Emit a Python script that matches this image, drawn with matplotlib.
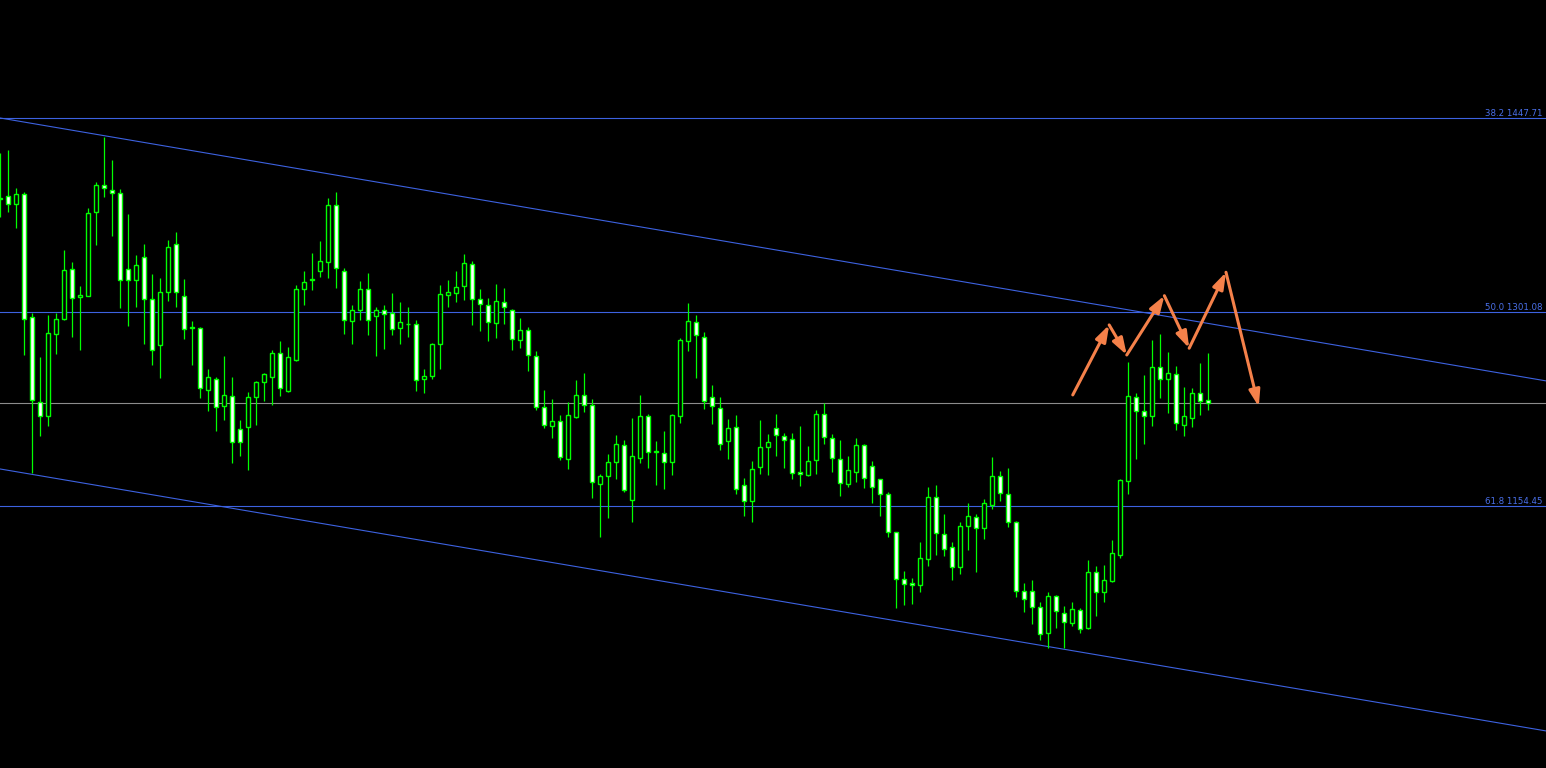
import numpy as np
import matplotlib.pyplot as plt

# OHLC values (one candle per bar)
opens = [1386.9, 1388.5, 1382.5, 1390.1, 1297.1, 1232.8, 1222.3, 1284.7, 1296.0, 1333.4,
         1312.2, 1313.4, 1376.4, 1396.9, 1393.1, 1390.8, 1333.4, 1325.5, 1342.4, 1310.7,
         1275.9, 1316.0, 1352.3, 1313.0, 1289.4, 1288.8, 1241.9, 1250.2, 1229.8, 1237.4,
         1212.4, 1214.0, 1237.1, 1248.4, 1252.2, 1269.9, 1241.6, 1264.8, 1318.2, 1325.3,
         1331.8, 1338.7, 1381.7, 1331.8, 1294.1, 1302.8, 1318.2, 1297.8, 1302.4, 1300.1,
         1288.8, 1292.2, 1291.8, 1250.2, 1252.5, 1276.7, 1313.7, 1315.2, 1320.5, 1337.1,
         1310.7, 1306.6, 1293.0, 1308.4, 1302.8, 1280.2, 1287.3, 1267.6, 1229.1, 1214.7,
         1218.5, 1190.2, 1222.0, 1238.6, 1230.6, 1170.9, 1177.4, 1188.0, 1200.3, 1159.2,
         1190.5, 1222.3, 1196.0, 1194.8, 1188.0, 1222.7, 1279.4, 1293.3, 1282.0, 1236.6,
         1228.3, 1203.4, 1214.0, 1170.1, 1158.5, 1183.7, 1198.8, 1213.2, 1207.1, 1204.9,
         1179.9, 1177.7, 1189.5, 1223.8, 1205.6, 1189.8, 1170.7, 1180.4, 1200.3, 1184.5,
         1174.6, 1163.3, 1134.6, 1099.1, 1096.0, 1094.5, 1114.2, 1161.0, 1133.1, 1123.3,
         1108.1, 1139.1, 1145.9, 1137.6, 1155.0, 1176.9, 1163.3, 1142.1, 1090.0, 1090.0,
         1077.9, 1058.3, 1086.2, 1073.4, 1065.8, 1075.6, 1062.5, 1104.4, 1089.2, 1097.6,
         1117.7, 1173.1, 1236.6, 1226.0, 1222.3, 1259.3, 1250.2, 1254.0, 1215.5, 1220.8,
         1239.6, 1234.4]
highs = [1421.3, 1423.5, 1394.6, 1391.8, 1300.6, 1266.9, 1298.6, 1300.6, 1348.0, 1338.9,
         1320.7, 1379.5, 1399.3, 1433.6, 1416.0, 1393.8, 1375.2, 1344.2, 1352.5, 1329.8,
         1326.8, 1355.5, 1361.6, 1326.0, 1294.3, 1290.0, 1258.0, 1252.0, 1267.8, 1252.0,
         1219.5, 1240.6, 1248.9, 1255.2, 1272.4, 1279.0, 1274.6, 1321.3, 1331.8, 1345.5,
         1354.8, 1387.0, 1391.6, 1334.1, 1306.4, 1324.3, 1330.3, 1305.1, 1306.4, 1315.2,
         1308.6, 1304.9, 1294.8, 1258.0, 1277.9, 1321.3, 1325.3, 1332.1, 1344.9, 1339.6,
         1318.5, 1311.7, 1322.3, 1319.2, 1303.0, 1296.6, 1289.5, 1271.4, 1242.1, 1235.3,
         1223.0, 1233.1, 1249.7, 1255.0, 1235.1, 1178.4, 1193.8, 1208.1, 1204.4, 1221.0,
         1238.1, 1224.0, 1203.6, 1211.2, 1223.8, 1281.2, 1307.9, 1298.8, 1286.0, 1245.9,
         1236.8, 1220.0, 1223.0, 1175.6, 1188.3, 1219.5, 1208.9, 1224.0, 1209.4, 1209.4,
         1214.9, 1199.6, 1226.8, 1232.1, 1208.7, 1204.2, 1192.3, 1205.9, 1201.5, 1188.5,
         1174.8, 1165.0, 1134.8, 1105.3, 1099.8, 1127.3, 1168.8, 1170.3, 1148.4, 1127.3,
         1142.1, 1156.7, 1148.4, 1159.8, 1191.5, 1180.9, 1183.0, 1142.9, 1096.3, 1098.3,
         1081.9, 1089.2, 1087.0, 1078.7, 1081.9, 1077.2, 1113.4, 1108.9, 1109.6, 1128.5,
         1174.9, 1263.3, 1239.6, 1253.5, 1279.9, 1284.5, 1270.9, 1260.3, 1244.4, 1243.7,
         1262.5, 1270.1]
lows = [1373.1, 1376.9, 1364.8, 1268.6, 1179.4, 1207.6, 1215.2, 1269.6, 1295.0, 1282.4,
        1272.4, 1313.0, 1351.7, 1388.2, 1358.5, 1304.3, 1290.5, 1305.1, 1277.1, 1261.3,
        1251.4, 1309.6, 1305.1, 1280.9, 1261.3, 1236.3, 1226.5, 1211.4, 1219.7, 1187.2,
        1192.5, 1181.7, 1215.7, 1233.8, 1230.8, 1237.6, 1240.6, 1264.1, 1306.4, 1317.7,
        1327.5, 1327.0, 1319.5, 1284.7, 1277.1, 1295.3, 1283.9, 1268.1, 1273.4, 1283.9,
        1277.1, 1282.4, 1241.6, 1240.1, 1250.2, 1258.2, 1305.1, 1308.9, 1310.4, 1291.5,
        1287.0, 1279.4, 1281.7, 1292.3, 1272.6, 1274.1, 1256.7, 1227.3, 1213.6, 1206.1,
        1189.5, 1182.7, 1221.2, 1225.7, 1160.7, 1131.3, 1145.6, 1175.1, 1165.3, 1142.6,
        1187.2, 1183.4, 1170.6, 1167.5, 1178.1, 1217.4, 1271.8, 1251.4, 1228.0, 1216.7,
        1197.0, 1190.2, 1163.8, 1147.1, 1142.6, 1178.9, 1178.1, 1192.5, 1183.4, 1175.1,
        1169.8, 1177.3, 1178.9, 1201.5, 1180.4, 1162.3, 1169.1, 1172.8, 1168.3, 1157.0,
        1147.1, 1131.3, 1077.6, 1079.9, 1080.6, 1089.7, 1109.3, 1117.7, 1116.9, 1098.8,
        1102.8, 1121.4, 1104.8, 1129.8, 1152.0, 1158.5, 1138.8, 1085.5, 1074.1, 1065.1,
        1053.0, 1046.9, 1062.5, 1046.9, 1064.0, 1058.3, 1061.7, 1071.6, 1082.1, 1097.3,
        1115.4, 1163.8, 1190.0, 1201.5, 1215.2, 1236.3, 1225.0, 1212.1, 1207.6, 1214.4,
        1223.5, 1227.3]
closes = [1386.5, 1382.5, 1390.1, 1295.6, 1234.6, 1222.3, 1285.0, 1295.6, 1332.6, 1311.4,
          1313.7, 1375.7, 1396.9, 1394.6, 1390.8, 1325.1, 1325.1, 1336.4, 1310.7, 1272.1,
          1316.0, 1350.0, 1316.0, 1288.0, 1289.0, 1243.4, 1251.7, 1229.1, 1238.1, 1202.6,
          1202.6, 1236.6, 1248.0, 1254.0, 1269.9, 1243.4, 1266.9, 1318.2, 1323.5, 1325.6,
          1339.4, 1381.7, 1334.1, 1294.8, 1302.8, 1318.2, 1294.8, 1302.4, 1299.4, 1288.0,
          1293.3, 1291.9, 1249.5, 1252.5, 1276.7, 1314.5, 1316.0, 1319.8, 1337.9, 1310.7,
          1306.9, 1293.3, 1309.2, 1304.6, 1280.5, 1287.3, 1268.4, 1229.1, 1215.5, 1218.5,
          1191.3, 1223.0, 1238.1, 1230.6, 1172.4, 1177.4, 1188.0, 1201.1, 1166.8, 1192.0,
          1222.3, 1195.5, 1195.6, 1188.0, 1223.0, 1279.7, 1294.1, 1283.5, 1233.6, 1229.8,
          1201.5, 1213.2, 1167.1, 1158.0, 1182.2, 1198.8, 1202.6, 1207.9, 1204.1, 1179.2,
          1178.4, 1188.3, 1223.8, 1206.4, 1190.4, 1171.6, 1181.4, 1200.3, 1175.4, 1168.6,
          1163.3, 1134.6, 1099.1, 1095.3, 1094.5, 1114.9, 1161.0, 1133.8, 1121.7, 1108.1,
          1139.1, 1146.7, 1137.8, 1156.5, 1176.9, 1164.1, 1142.1, 1090.0, 1084.0, 1077.9,
          1057.5, 1086.2, 1074.9, 1066.6, 1076.4, 1061.3, 1104.4, 1089.2, 1098.2, 1118.6,
          1173.9, 1237.4, 1226.0, 1222.3, 1259.3, 1250.2, 1254.8, 1217.0, 1222.3, 1239.6,
          1233.6, 1232.1]

# Fibonacci levels (percent, price)
fib_pct = ["38.2", "50.0", "61.8"]
fib_price = [1447.71, 1301.08, 1154.45]

# channel lines: two anchor points each (bar index, price)
upper_channel = [(0, 1447.7), (190, 1252.3)]
lower_channel = [(0, 1182.4), (190, 987.7)]

# hand-drawn projection path (bar index, price)
path_x = [134.05, 138.6, 140.8, 145.5, 148.6, 153.2, 157.3]
path_y = [1238.4, 1291.3, 1268.6, 1313.4, 1273.7, 1331.1, 1229.5]

BLUE = '#3d62e0'
LIME = '#00ff00'
ORANGE = '#f5814a'

o = np.array(opens)
h = np.array(highs)
l = np.array(lows)
c = np.array(closes)
x = np.arange(len(o))

fig = plt.figure(figsize=(15.46, 7.68), dpi=100, facecolor='black')
ax = fig.add_axes([0, 0, 1, 1])
ax.set_facecolor('black')
ax.set_xlim(-0.0375, 193.2)
ax.set_ylim(956.4, 1536.9)
ax.axis('off')

# horizontal levels
for pct, p in zip(fib_pct, fib_price):
    ax.axhline(p, color=BLUE, lw=0.8, zorder=1)
    ax.annotate(f"{pct} {p:.2f}", xy=(0.998, p), xycoords=('axes fraction', 'data'),
                xytext=(0, 0), textcoords='offset points', ha='right', va='bottom',
                color='#4a70ea', fontsize=6.2, family='DejaVu Sans')

# last price line
ax.axhline(c[-1], color='#8c8c8c', lw=0.8, zorder=1)

# channel
ax.axline(upper_channel[0], upper_channel[1], color=BLUE, lw=0.8, zorder=1)
ax.axline(lower_channel[0], lower_channel[1], color=BLUE, lw=0.8, zorder=1)

# candles
ax.vlines(x, l, h, color=LIME, lw=0.9, zorder=2)
bull = c >= o
body_h = np.maximum(np.abs(c - o), 0.4)
body_b = np.minimum(o, c)
ax.bar(x[bull], body_h[bull], bottom=body_b[bull], width=0.5,
       color='black', edgecolor=LIME, linewidth=1.0, zorder=3)
ax.bar(x[~bull], body_h[~bull], bottom=body_b[~bull], width=0.5,
       color='white', edgecolor=LIME, linewidth=1.0, zorder=3)

# projection arrows
for k in range(len(path_x) - 1):
    ax.annotate('', xy=(path_x[k + 1], path_y[k + 1]), xytext=(path_x[k], path_y[k]),
                arrowprops=dict(arrowstyle='-|>,head_length=0.9,head_width=0.3',
                                color=ORANGE, lw=2.2, shrinkA=0, shrinkB=0,
                                mutation_scale=11),
                zorder=4)

fig.savefig('out.png', dpi=100, facecolor='black')
